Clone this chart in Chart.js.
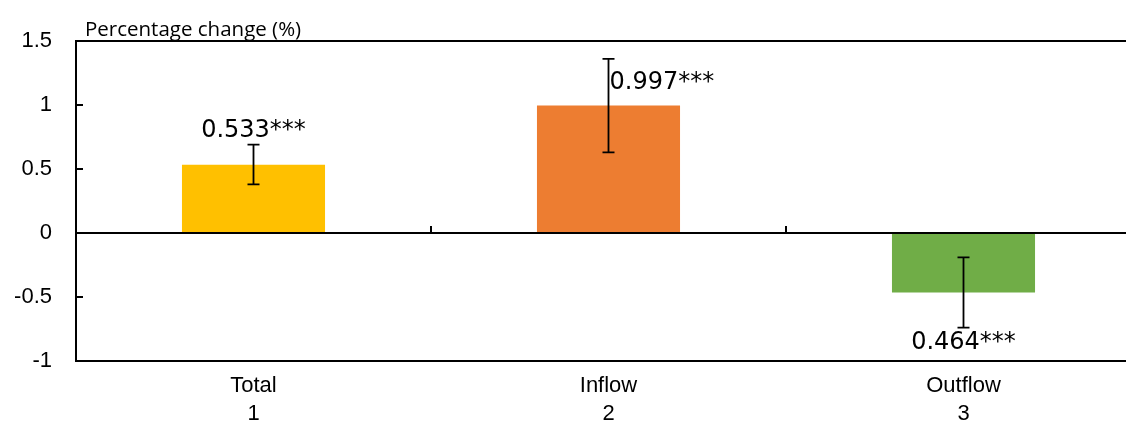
<!DOCTYPE html>
<html>
<head>
<meta charset="utf-8">
<script src="https://cdn.jsdelivr.net/npm/chart.js"></script>
<style>
  html, body { margin: 0; padding: 0; background: #fff; overflow: hidden; }
  #wrap { width: 1126px; height: 423px; overflow: hidden; }
</style>
</head>
<body>
<div id="wrap"><canvas id="chart" width="1160" height="423"></canvas></div>
<script>
const categories = ["Total", "Inflow", "Outflow"];
const categoryNumbers = ["1", "2", "3"];
const values = [0.533, 0.997, -0.464];
const errLow = [0.38, 0.63, -0.74];
const errHigh = [0.69, 1.36, -0.19];
const valueLabels = ["0.533***", "0.997***", "0.464***"];
const barColors = ["#FFC000", "#ED7D31", "#70AD47"];
const yTicks = [-1, -0.5, 0, 0.5, 1, 1.5];

// where each value label sits relative to its error bar
const labelPlace = ["above", "right", "below"];

const axisFont = "'Liberation Sans', Arial, sans-serif";
const lineColor = "#000";

const errorBars = {
    id: "errorBars",
    afterDatasetsDraw(chart) {
        const ctx = chart.ctx;
        const y = chart.scales.y;
        const meta = chart.getDatasetMeta(0);
        ctx.save();
        ctx.strokeStyle = lineColor;
        ctx.lineWidth = 1.8;
        meta.data.forEach((bar, i) => {
            const top = y.getPixelForValue(errHigh[i]);
            const bot = y.getPixelForValue(errLow[i]);
            ctx.beginPath();
            ctx.moveTo(bar.x, top);
            ctx.lineTo(bar.x, bot);
            ctx.moveTo(bar.x - 6, top);
            ctx.lineTo(bar.x + 6, top);
            ctx.moveTo(bar.x - 6, bot);
            ctx.lineTo(bar.x + 6, bot);
            ctx.stroke();

            ctx.fillStyle = "#000";
            ctx.font = "24px 'DejaVu Sans', sans-serif";
            ctx.textBaseline = "middle";
            if (labelPlace[i] === "above") {
                ctx.textAlign = "center";
                ctx.fillText(valueLabels[i], bar.x, top - 14);
            } else if (labelPlace[i] === "right") {
                ctx.textAlign = "left";
                ctx.fillText(valueLabels[i], bar.x + 1, top + 24);
            } else {
                ctx.textAlign = "center";
                ctx.fillText(valueLabels[i], bar.x, bot + 15);
            }
        });
        ctx.restore();
    }
};

const innerTicks = {
    id: "innerTicks",
    afterDraw(chart) {
        const ctx = chart.ctx;
        const area = chart.chartArea;
        const y = chart.scales.y;
        const meta = chart.getDatasetMeta(0);
        ctx.save();
        ctx.strokeStyle = lineColor;
        ctx.lineWidth = 2;
        ctx.beginPath();
        yTicks.forEach(v => {
            const py = y.getPixelForValue(v);
            ctx.moveTo(area.left, py);
            ctx.lineTo(area.left + 7, py);
        });
        const zero = y.getPixelForValue(0);
        for (let i = 0; i < meta.data.length - 1; i++) {
            const px = (meta.data[i].x + meta.data[i + 1].x) / 2;
            ctx.moveTo(px, zero);
            ctx.lineTo(px, zero - 7);
        }
        ctx.stroke();

        ctx.fillStyle = "#000";
        ctx.font = "20.5px 'Open Sans', sans-serif";
        ctx.textAlign = "left";
        ctx.textBaseline = "alphabetic";
        ctx.fillText("Percentage change (%)", area.left + 9, area.top - 5);
        ctx.restore();
    }
};

new Chart(document.getElementById("chart"), {
    type: "bar",
    data: {
        labels: categories.map((c, i) => [c, categoryNumbers[i]]),
        datasets: [{
            data: values,
            backgroundColor: barColors,
            borderWidth: 0,
            categoryPercentage: 1,
            barPercentage: 0.403
        }]
    },
    options: {
        responsive: false,
        animation: false,
        layout: { padding: { top: 41, right: 19, left: 0, bottom: 0 } },
        plugins: {
            legend: { display: false },
            tooltip: { enabled: false }
        },
        scales: {
            x: {
                grid: { display: false, drawTicks: false },
                border: { display: false },
                ticks: {
                    color: "#000",
                    padding: 11,
                    font: { family: axisFont, size: 22, lineHeight: 1.27 }
                },
                afterFit(scale) { scale.height = 62; }
            },
            y: {
                min: -1,
                max: 1.5,
                afterBuildTicks(scale) { scale.ticks = yTicks.map(v => ({ value: v })); },
                ticks: {
                    color: "#000",
                    padding: 24,
                    font: { family: axisFont, size: 22 },
                    callback: v => String(v)
                },
                grid: {
                    drawTicks: false,
                    lineWidth: 2,
                    color: c => (c.tick && (c.tick.value === 0 || c.tick.value === 1.5 || c.tick.value === -1)) ? lineColor : "transparent"
                },
                border: { display: true, color: lineColor, width: 2 },
                afterFit(scale) { scale.width = 76; }
            }
        }
    },
    plugins: [errorBars, innerTicks]
});
</script>
</body>
</html>
